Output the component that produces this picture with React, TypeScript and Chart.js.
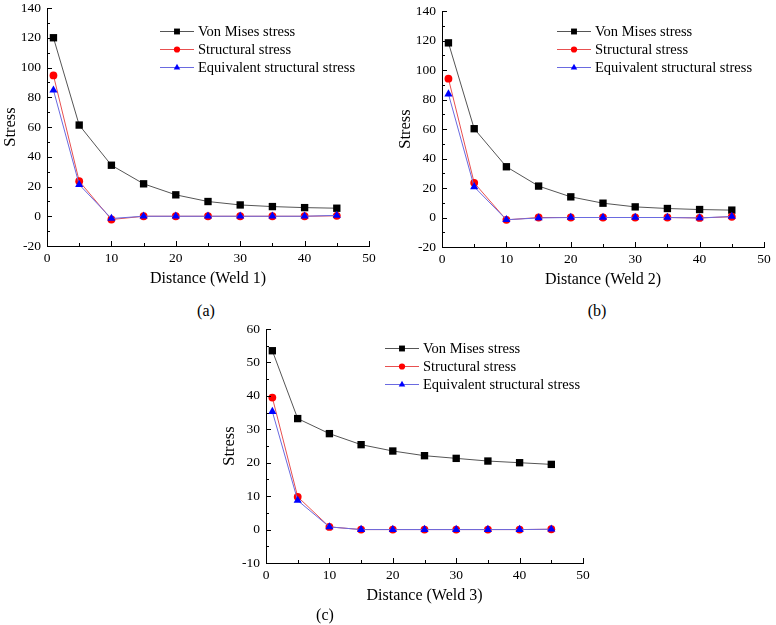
import { useEffect, useRef } from 'react';
import { Chart, registerables } from 'chart.js';
import { drawPoint } from 'chart.js/helpers';

Chart.register(...registerables);

const FONT = '"Liberation Serif", "Times New Roman", serif';

const distance = [1, 5, 10, 15, 20, 25, 30, 35, 40, 45];
const seriesNames = ['Von Mises stress', 'Structural stress', 'Equivalent structural stress'];

const vonMises1 = [120, 61.3, 34.3, 21.8, 14.4, 9.9, 7.6, 6.5, 5.8, 5.4];
const structural1 = [94.7, 23.6, -2.2, 0, 0, 0, 0, 0, 0, 0.3];
const equivalent1 = [84.8, 21.3, -1.5, 0, 0, 0, 0, 0, 0, 0.6];

const vonMises2 = [118.4, 60.2, 34.4, 21.3, 14.0, 9.7, 7.2, 6.1, 5.4, 5.0];
const structural2 = [94.1, 23.5, -1.6, 0, 0, 0, 0, 0, -0.3, 0.5];
const equivalent2 = [83.7, 20.8, -1.5, -0.3, 0, 0, 0, 0, -0.3, 0.7];

const vonMises3 = [53.5, 33.2, 28.7, 25.4, 23.5, 22.1, 21.3, 20.5, 20.0, 19.5];
const structural3 = [39.5, 9.8, 0.8, 0, 0, 0, 0, 0, 0, 0.1];
const equivalent3 = [35.3, 8.7, 0.8, 0, 0, 0, 0, 0, 0, 0.1];

const LINE_COLS = ['#555555', '#e85050', '#6a6ae0'];
const MARK_COLS = ['#000000', '#ff0000', '#0000ff'];
const MARKS = ['rect', 'circle', 'triangle'] as const;
const MARK_R = [5.2, 3.9, 4.7];

// inward major/minor ticks on the left and bottom axes
const innerTicks = {
  id: 'innerTicks',
  afterDraw(chart: any) {
    const { ctx, chartArea } = chart;
    const sx = chart.scales.x, sy = chart.scales.y;
    ctx.save();
    ctx.strokeStyle = '#000';
    ctx.lineWidth = 1;
    ctx.beginPath();
    const xv = sx.ticks.map((t: any) => t.value);
    xv.forEach((v: number, i: number) => {
      const px = Math.round(sx.getPixelForValue(v)) + 0.5;
      ctx.moveTo(px, chartArea.bottom); ctx.lineTo(px, chartArea.bottom - 5);
      if (i < xv.length - 1) {
        const mx = Math.round(sx.getPixelForValue((v + xv[i + 1]) / 2)) + 0.5;
        ctx.moveTo(mx, chartArea.bottom); ctx.lineTo(mx, chartArea.bottom - 3);
      }
    });
    const yv = sy.ticks.map((t: any) => t.value);
    yv.forEach((v: number, i: number) => {
      const py = Math.round(sy.getPixelForValue(v)) + 0.5;
      ctx.moveTo(chartArea.left, py); ctx.lineTo(chartArea.left + 5, py);
      if (i < yv.length - 1) {
        const my = Math.round(sy.getPixelForValue((v + yv[i + 1]) / 2)) + 0.5;
        ctx.moveTo(chartArea.left, my); ctx.lineTo(chartArea.left + 3, my);
      }
    });
    ctx.stroke();
    ctx.restore();
  }
};

// legend with a line through the marker, drawn inside the plot
const lineLegend = {
  id: 'lineLegend',
  afterDraw(chart: any, _args: any, opts: any) {
    const { ctx, chartArea } = chart;
    ctx.save();
    ctx.font = `14.5px ${FONT}`;
    ctx.textBaseline = 'middle';
    chart.data.datasets.forEach((ds: any, i: number) => {
      const x0 = chartArea.left + opts.x;
      const y = chartArea.top + opts.y + i * 18;
      ctx.strokeStyle = ds.borderColor;
      ctx.lineWidth = 1;
      ctx.beginPath(); ctx.moveTo(x0, y + 0.5); ctx.lineTo(x0 + 34, y + 0.5); ctx.stroke();
      ctx.fillStyle = ds.pointBackgroundColor;
      ctx.strokeStyle = ds.pointBackgroundColor;
      drawPoint(ctx, { pointStyle: ds.pointStyle, radius: ds.pointRadius * 0.8, rotation: 0, borderWidth: 0 }, x0 + 17, y + 0.5);
      ctx.fillStyle = '#000';
      ctx.fillText(ds.label, x0 + 38, y + 1);
    });
    ctx.restore();
  }
};

interface Props {
  left: number; top: number; plotW: number; plotH: number;
  series: number[][]; yMin: number; yMax: number; yStep: number;
  xTitle: string; legendX: number; legendY: number;
}

function StressChart(p: Props) {
  const ref = useRef<HTMLCanvasElement>(null);
  const ci = useRef<Chart | null>(null);
  const width = 47 + p.plotW + 12;
  const height = 8 + p.plotH + 54;

  useEffect(() => {
    if (!ref.current) return;
    ci.current?.destroy();
    ci.current = new Chart(ref.current, {
      type: 'line',
      data: {
        datasets: p.series.map((vals, i) => ({
          label: seriesNames[i],
          data: distance.map((d, k) => ({ x: d, y: vals[k] })),
          borderColor: LINE_COLS[i],
          borderWidth: 1,
          pointStyle: MARKS[i],
          pointRadius: MARK_R[i],
          pointBackgroundColor: MARK_COLS[i],
          pointBorderColor: MARK_COLS[i],
          pointBorderWidth: 0,
          tension: 0,
          order: 2 - i
        }))
      },
      options: {
        responsive: true, maintainAspectRatio: false, animation: false,
        layout: { padding: { top: 8, right: 12, left: 0, bottom: 0 } },
        plugins: {
          legend: { display: false }, tooltip: { enabled: false },
          lineLegend: { x: p.legendX, y: p.legendY }
        } as any,
        scales: {
          x: {
            type: 'linear', min: 0, max: 50,
            ticks: { stepSize: 10, color: '#000', font: { family: FONT, size: 13.5 }, padding: 4, maxRotation: 0 },
            grid: { drawOnChartArea: false, drawTicks: false },
            border: { color: '#000', width: 1 },
            title: { display: true, text: p.xTitle, color: '#000', font: { family: FONT, size: 16 }, padding: { top: 0, bottom: 12 } },
            afterFit: (s: any) => { s.height = 54; s.paddingLeft = 0; s.paddingRight = 0; }
          },
          y: {
            type: 'linear', min: p.yMin, max: p.yMax,
            ticks: { stepSize: p.yStep, color: '#000', font: { family: FONT, size: 13.5 }, padding: 6 },
            grid: { drawOnChartArea: false, drawTicks: false },
            border: { color: '#000', width: 1 },
            title: { display: true, text: 'Stress', color: '#000', font: { family: FONT, size: 16.5 }, padding: { top: 1, bottom: 0 } },
            afterFit: (s: any) => { s.width = 47; s.paddingTop = 0; s.paddingBottom = 0; }
          }
        }
      },
      plugins: [innerTicks, lineLegend]
    });
    return () => { ci.current?.destroy(); ci.current = null; };
  }, []);

  return (
    <div style={{ position: 'absolute', left: p.left - 47, top: p.top - 8, width, height }}>
      <canvas ref={ref} />
    </div>
  );
}

const capStyle = { position: 'absolute' as const, fontFamily: FONT, fontSize: 16, color: '#000', transform: 'translate(-50%, -50%)' };

export default function App() {
  return (
    <div style={{ position: 'absolute', left: 0, top: 0, width: 776, height: 625, background: '#fff', overflow: 'hidden' }}>
      <StressChart left={47} top={8} plotW={322} plotH={238} series={[vonMises1, structural1, equivalent1]}
        yMin={-20} yMax={140} yStep={20} xTitle="Distance (Weld 1)" legendX={113} legendY={23} />
      <StressChart left={442} top={11} plotW={322} plotH={236} series={[vonMises2, structural2, equivalent2]}
        yMin={-20} yMax={140} yStep={20} xTitle="Distance (Weld 2)" legendX={115} legendY={20} />
      <StressChart left={266} top={329} plotW={317} plotH={234} series={[vonMises3, structural3, equivalent3]}
        yMin={-10} yMax={60} yStep={10} xTitle="Distance (Weld 3)" legendX={119} legendY={19} />
      <div style={{ ...capStyle, left: 206, top: 311 }}>(a)</div>
      <div style={{ ...capStyle, left: 597, top: 311 }}>(b)</div>
      <div style={{ ...capStyle, left: 325, top: 615 }}>(c)</div>
    </div>
  );
}
